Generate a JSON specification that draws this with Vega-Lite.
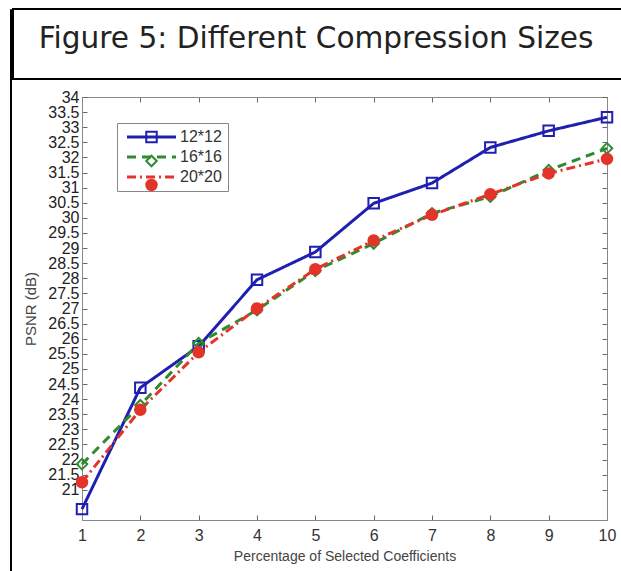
{
  "$schema": "https://vega.github.io/schema/vega-lite/v6.json",
  "padding": {"left": 9, "top": 8, "right": 0, "bottom": 0},
  "background": "white",
  "spacing": 0,
  "hconcat": [
    {
      "width": 1,
      "height": 570,
      "view": {"stroke": "#000", "strokeWidth": 1},
      "data": {"values": []},
      "mark": "point",
      "encoding": {}
    },
    {
      "concat": [
        {
          "width": 614,
          "height": 70,
          "view": {"stroke": "#000", "strokeWidth": 2},
          "data": {"values": [{"t": "Figure 5: Different Compression Sizes"}]},
          "mark": {"type": "text", "font": "DejaVu Sans", "fontSize": 29.6, "baseline": "alphabetic", "dy": 4, "dx": -4, "color": "#222"},
          "encoding": {"text": {"field": "t", "type": "nominal"}}
        },
        {
          "spacing": 9,
          "hconcat": [
            {
              "width": 1,
              "height": 423,
              "view": {"stroke": null},
              "data": {"values": []},
              "mark": "point",
              "encoding": {}
            },
            {
              "width": 525,
              "height": 423,
              "view": {"stroke": "#888", "strokeWidth": 1},
              "data": {
                "values": [
                  {"x": 1, "series": "12*12", "psnr": 20.36},
                  {"x": 2, "series": "12*12", "psnr": 24.38},
                  {"x": 3, "series": "12*12", "psnr": 25.75},
                  {"x": 4, "series": "12*12", "psnr": 27.95},
                  {"x": 5, "series": "12*12", "psnr": 28.87},
                  {"x": 6, "series": "12*12", "psnr": 30.48},
                  {"x": 7, "series": "12*12", "psnr": 31.15},
                  {"x": 8, "series": "12*12", "psnr": 32.33},
                  {"x": 9, "series": "12*12", "psnr": 32.88},
                  {"x": 10, "series": "12*12", "psnr": 33.33},
                  {"x": 1, "series": "16*16", "psnr": 21.85},
                  {"x": 2, "series": "16*16", "psnr": 23.8},
                  {"x": 3, "series": "16*16", "psnr": 25.85},
                  {"x": 4, "series": "16*16", "psnr": 26.95},
                  {"x": 5, "series": "16*16", "psnr": 28.25},
                  {"x": 6, "series": "16*16", "psnr": 29.15},
                  {"x": 7, "series": "16*16", "psnr": 30.15},
                  {"x": 8, "series": "16*16", "psnr": 30.7},
                  {"x": 9, "series": "16*16", "psnr": 31.58},
                  {"x": 10, "series": "16*16", "psnr": 32.3},
                  {"x": 1, "series": "20*20", "psnr": 21.25},
                  {"x": 2, "series": "20*20", "psnr": 23.65},
                  {"x": 3, "series": "20*20", "psnr": 25.55},
                  {"x": 4, "series": "20*20", "psnr": 27.0},
                  {"x": 5, "series": "20*20", "psnr": 28.3},
                  {"x": 6, "series": "20*20", "psnr": 29.25},
                  {"x": 7, "series": "20*20", "psnr": 30.1},
                  {"x": 8, "series": "20*20", "psnr": 30.78},
                  {"x": 9, "series": "20*20", "psnr": 31.47},
                  {"x": 10, "series": "20*20", "psnr": 31.95}
                ]
              },
              "layer": [
                {
                  "mark": {"type": "line", "strokeWidth": 3},
                  "encoding": {
                    "x": {
                      "field": "x", "type": "quantitative",
                      "scale": {"domain": [1, 10], "nice": false, "zero": false},
                      "axis": {
                        "orient": "bottom", "values": [1, 2, 3, 4, 5, 6, 7, 8, 9, 10], "format": "d",
                        "grid": false, "tickSize": -5, "tickColor": "#666", "domainColor": "#888",
                        "labelPadding": 12, "labelFont": "Liberation Sans", "labelFontSize": 16, "labelColor": "#333",
                        "labelFlush": false,
                        "title": "Percentage of Selected Coefficients", "titleFont": "Liberation Sans",
                        "titleFontSize": 14, "titleFontWeight": "normal", "titleColor": "#444", "titlePadding": 6
                      }
                    },
                    "y": {
                      "field": "psnr", "type": "quantitative",
                      "scale": {"domain": [20, 34], "nice": false, "zero": false},
                      "axis": {
                        "orient": "left",
                        "values": [21, 21.5, 22, 22.5, 23, 23.5, 24, 24.5, 25, 25.5, 26, 26.5, 27, 27.5, 28, 28.5, 29, 29.5, 30, 30.5, 31, 31.5, 32, 32.5, 33, 33.5, 34],
                        "format": "~g", "grid": false, "tickSize": -5, "tickColor": "#666", "domainColor": "#888",
                        "labelPadding": 8, "labelFont": "Liberation Sans", "labelFontSize": 16, "labelColor": "#222",
                        "labelFlush": false, "labelOverlap": false,
                        "title": "PSNR (dB)", "titleFont": "Liberation Sans", "titleFontSize": 15,
                        "titleFontWeight": "normal", "titleColor": "#444", "titlePadding": 9
                      }
                    },
                    "color": {
                      "field": "series", "type": "nominal",
                      "scale": {"domain": ["12*12", "16*16", "20*20"], "range": ["#1f1fb0", "#2e8b2e", "#e3342a"]},
                      "legend": {
                        "orient": "none", "legendX": 107, "legendY": 114, "title": null,
                        "symbolType": "M-4.9,0H4.9", "symbolSize": 100, "symbolStrokeWidth": 3,
                        "labelFont": "Liberation Sans", "labelFontSize": 16, "labelColor": "#333",
                        "strokeColor": "#888", "fillColor": "white", "padding": 6,
                        "symbolOffset": 20.5, "labelOffset": 20.5, "rowPadding": 4, "zindex": 1
                      }
                    },
                    "strokeDash": {
                      "field": "series", "type": "nominal",
                      "scale": {"domain": ["12*12", "16*16", "20*20"], "range": [[1, 0], [9, 6], [9, 4, 2, 4]]},
                      "legend": {
                        "orient": "none", "legendX": 107, "legendY": 114, "title": null,
                        "symbolType": "M-4.9,0H4.9", "symbolSize": 100, "symbolStrokeWidth": 3,
                        "labelFont": "Liberation Sans", "labelFontSize": 16, "labelColor": "#333",
                        "strokeColor": "#888", "fillColor": "white", "padding": 6,
                        "symbolOffset": 20.5, "labelOffset": 20.5, "rowPadding": 4, "zindex": 1
                      }
                    }
                  }
                },
                {
                  "mark": {"type": "point", "strokeWidth": 2, "opacity": 1},
                  "encoding": {
                    "x": {
                      "field": "x", "type": "quantitative",
                      "axis": {
                        "orient": "top", "values": [1, 2, 3, 4, 5, 6, 7, 8, 9, 10], "labels": false,
                        "grid": false, "tickSize": -5, "tickColor": "#666", "domainColor": "#888", "title": null
                      }
                    },
                    "y": {
                      "field": "psnr", "type": "quantitative",
                      "axis": {
                        "orient": "right",
                        "values": [21, 21.5, 22, 22.5, 23, 23.5, 24, 24.5, 25, 25.5, 26, 26.5, 27, 27.5, 28, 28.5, 29, 29.5, 30, 30.5, 31, 31.5, 32, 32.5, 33, 33.5, 34],
                        "labels": false, "grid": false, "tickSize": -5, "tickColor": "#666", "domainColor": "#888", "title": null
                      }
                    },
                    "stroke": {
                      "field": "series", "type": "nominal",
                      "scale": {"range": ["#1f1fb0", "#2e8b2e", "#e3342a"]},
                      "legend": {
                        "orient": "none", "legendX": 107, "legendY": 114, "title": null,
                        "symbolStrokeWidth": 2,
                        "labelFont": "Liberation Sans", "labelFontSize": 16, "labelColor": "transparent",
                        "padding": 6, "symbolOffset": 20.5, "labelOffset": 20.5, "rowPadding": 4, "zindex": 2
                      }
                    },
                    "fill": {
                      "field": "series", "type": "nominal",
                      "scale": {"range": ["transparent", "transparent", "#e3342a"]},
                      "legend": {
                        "orient": "none", "legendX": 107, "legendY": 114, "title": null,
                        "symbolStrokeWidth": 2,
                        "labelFont": "Liberation Sans", "labelFontSize": 16, "labelColor": "transparent",
                        "padding": 6, "symbolOffset": 20.5, "labelOffset": 20.5, "rowPadding": 4, "zindex": 2
                      }
                    },
                    "shape": {
                      "field": "series", "type": "nominal",
                      "scale": {"range": ["square", "diamond", "circle"]},
                      "legend": {
                        "orient": "none", "legendX": 107, "legendY": 114, "title": null,
                        "symbolStrokeWidth": 2,
                        "labelFont": "Liberation Sans", "labelFontSize": 16, "labelColor": "transparent",
                        "padding": 6, "symbolOffset": 20.5, "labelOffset": 20.5, "rowPadding": 4, "zindex": 2
                      }
                    },
                    "size": {
                      "field": "series", "type": "nominal",
                      "scale": {"range": [110, 110, 70]},
                      "legend": {
                        "orient": "none", "legendX": 107, "legendY": 114, "title": null,
                        "symbolStrokeWidth": 2,
                        "labelFont": "Liberation Sans", "labelFontSize": 16, "labelColor": "transparent",
                        "padding": 6, "symbolOffset": 20.5, "labelOffset": 20.5, "rowPadding": 4, "zindex": 2
                      }
                    }
                  }
                }
              ],
              "resolve": {"axis": {"x": "independent", "y": "independent"}}
            }
          ]
        }
      ],
      "columns": 1,
      "align": "none",
      "spacing": 8
    }
  ]
}
